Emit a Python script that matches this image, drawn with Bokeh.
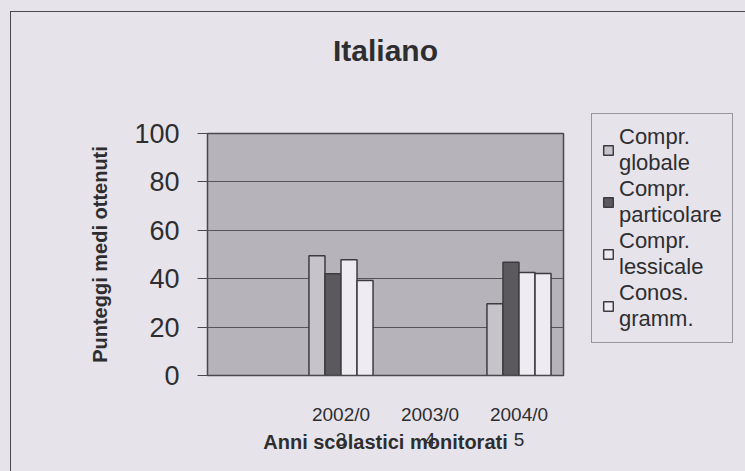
from bokeh.plotting import figure
from bokeh.models import (ColumnDataSource, FactorRange, Legend, LegendItem,
                          SingleIntervalTicker, Title)
from bokeh.transform import dodge
from bokeh.embed import file_html
from bokeh.resources import INLINE

# ---- data ----
categories = [" ", "2002/0\n3", "2003/0\n4", "2004/0\n5"]
years = ["2002/0\n3", "2004/0\n5"]
compr_globale = [49.5, 29.6]
compr_particolare = [42.0, 46.8]
compr_lessicale = [47.8, 42.6]
conos_gramm = [39.3, 42.1]
series_names = ["Compr.\nglobale", "Compr.\nparticolare", "Compr.\nlessicale", "Conos.\ngramm."]

FONT = "Liberation Sans"
PAGE = "#e6e3eb"
TEXT = "#2e2e30"
LINE = "#4a4a4e"

source = ColumnDataSource(dict(x=years, g=compr_globale, p=compr_particolare,
                               l=compr_lessicale, c=conos_gramm))

p = figure(frame_width=356, frame_height=242, x_range=FactorRange(*categories), y_range=(0, 100),
           output_backend="svg", toolbar_location=None, title="Italiano",
           min_border_left=196, min_border_right=182, min_border_top=121, min_border_bottom=96,
           styles={"margin-left": "10px", "margin-top": "11px",
                   "border-left": f"1px solid {LINE}", "border-top": f"1px solid {LINE}"})

p.background_fill_color = "#b6b3ba"
p.border_fill_color = PAGE
p.outline_line_color = LINE
p.outline_line_width = 1.5

p.title.text_font = FONT
p.title.text_font_size = "30px"
p.title.text_font_style = "bold"
p.title.text_color = TEXT
p.title.align = "center"
p.title.standoff = 0

# blank spacer between title and plot area
p.add_layout(Title(text=" ", text_font_size="10px", standoff=54), "above")

cols = ["g", "p", "l", "c"]
fills = ["#c6c3ca", "#5b595e", "#eeecf2", "#eeecf2"]
offsets = [-0.27, -0.09, 0.09, 0.27]
renderers = []
for col, fc, off in zip(cols, fills, offsets):
    r = p.vbar(x=dodge("x", off, range=p.x_range), top=col, width=0.18, bottom=0,
               source=source, fill_color=fc, line_color="#3c3c40", line_width=1.5)
    renderers.append(r)

# y axis
p.yaxis.ticker = SingleIntervalTicker(interval=20)
p.yaxis.axis_label = "Punteggi medi ottenuti"
p.yaxis.axis_label_text_font = FONT
p.yaxis.axis_label_text_font_size = "20px"
p.yaxis.axis_label_text_font_style = "bold"
p.yaxis.axis_label_text_color = TEXT
p.yaxis.axis_label_standoff = 20
p.yaxis.major_label_text_font = FONT
p.yaxis.major_label_text_font_size = "27px"
p.yaxis.major_label_text_color = TEXT
p.yaxis.major_label_standoff = 18
p.yaxis.major_tick_out = 10
p.yaxis.major_tick_in = 0
p.yaxis.minor_tick_line_color = None
p.yaxis.axis_line_color = LINE
p.yaxis.major_tick_line_color = LINE

# x axis
p.xaxis.axis_label = "Anni scolastici monitorati"
p.xaxis.axis_label_text_font = FONT
p.xaxis.axis_label_text_font_size = "20px"
p.xaxis.axis_label_text_font_style = "bold"
p.xaxis.axis_label_text_color = TEXT
p.xaxis.axis_label_standoff = -22
p.xaxis.major_label_text_font = FONT
p.xaxis.major_label_text_font_size = "19px"
p.xaxis.major_label_text_color = TEXT
p.xaxis.major_label_standoff = 28
p.xaxis.major_tick_out = 0
p.xaxis.major_tick_in = 0
p.xaxis.axis_line_color = LINE

p.xgrid.grid_line_color = None
p.ygrid.grid_line_color = "#555558"
p.ygrid.grid_line_width = 1

items = [LegendItem(label=n, renderers=[r]) for n, r in zip(series_names, renderers)]
legend = Legend(items=items, location=(28, 32))
legend.label_text_font = FONT
legend.label_text_font_size = "22px"
legend.label_text_color = TEXT
legend.label_text_line_height = 1.1
legend.glyph_width = 12
legend.glyph_height = 12
legend.label_standoff = 5
legend.padding = 10
legend.spacing = 0
legend.margin = 0
legend.border_line_color = LINE
legend.border_line_width = 1.5
legend.background_fill_color = PAGE
legend.background_fill_alpha = 1
p.add_layout(legend, "right")

html = file_html(p, INLINE)
html = html.replace("<body>", f'<body style="margin:0;background:{PAGE};">')
open("out.html", "w").write(html)
